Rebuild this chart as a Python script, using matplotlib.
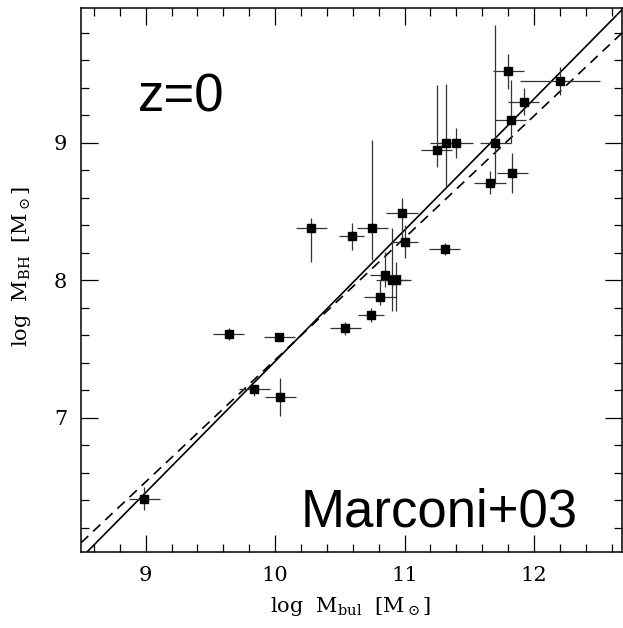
import matplotlib
matplotlib.use('Agg')
import numpy as np
import matplotlib.pyplot as plt
from matplotlib.ticker import MultipleLocator

# log M_bul, log M_BH and their errors
log_mbul = [8.99, 9.64, 10.03, 9.84, 10.04, 10.54, 10.59, 10.28, 10.75, 10.98,
            11.00, 11.31, 10.85, 10.90, 10.93, 10.81, 10.74, 11.25, 11.32, 11.40,
            11.70, 11.66, 11.83, 11.82, 11.92, 11.80, 12.20]
log_mbh = [6.41, 7.61, 7.59, 7.21, 7.15, 7.65, 8.32, 8.38, 8.38, 8.49,
           8.28, 8.23, 8.04, 8.00, 8.00, 7.88, 7.75, 8.95, 9.00, 9.00,
           9.00, 8.71, 8.78, 9.17, 9.30, 9.52, 9.45]
xerr = [0.12, 0.12, 0.12, 0.12, 0.12, 0.12, 0.10, 0.12, 0.12, 0.12,
        0.10, 0.12, 0.12, 0.12, 0.12, 0.12, 0.10, 0.12, 0.12, 0.13,
        0.12, 0.12, 0.12, 0.12, 0.12, 0.12, 0.31]
yerr_lo = [0.085, 0.045, 0.03, 0.05, 0.14, 0.05, 0.10, 0.25, 0.23, 0.20,
           0.12, 0.045, 0.09, 0.22, 0.22, 0.06, 0.05, 0.125, 0.31, 0.11,
           0.30, 0.085, 0.145, 0.17, 0.10, 0.13, 0.10]
yerr_hi = [0.085, 0.045, 0.03, 0.03, 0.14, 0.05, 0.10, 0.07, 0.64, 0.11,
           0.12, 0.045, 0.165, 0.38, 0.13, 0.12, 0.05, 0.47, 0.43, 0.11,
           0.86, 0.085, 0.145, 0.29, 0.10, 0.13, 0.10]

# fitted relations: log M_BH = a + b (log M_bul - 10.9)
fit_solid = (8.27, 0.955)
fit_dashed = (8.22, 0.888)

xmin, xmax = 8.5, 12.68
ymin, ymax = 6.02, 9.98

plt.rcParams['mathtext.fontset'] = 'dejavuserif'

fig = plt.figure(figsize=(6.23, 6.28), dpi=100)
ax = fig.add_axes([0.130, 0.1205, 0.8685, 0.8663])

xx = np.array([xmin, xmax])
ax.plot(xx, fit_solid[0] + fit_solid[1] * (xx - 10.9), color='k', lw=1.2)
ax.plot(xx, fit_dashed[0] + fit_dashed[1] * (xx - 10.9), color='k', lw=1.2,
        ls=(0, (6, 4)))

ax.errorbar(log_mbul, log_mbh, xerr=xerr, yerr=[yerr_lo, yerr_hi],
            fmt='s', color='k', ms=6, elinewidth=0.9, ecolor='#333333',
            capsize=0)

ax.set_xlim(xmin, xmax)
ax.set_ylim(ymin, ymax)
ax.xaxis.set_major_locator(MultipleLocator(1))
ax.xaxis.set_minor_locator(MultipleLocator(0.2))
ax.yaxis.set_major_locator(MultipleLocator(1))
ax.yaxis.set_minor_locator(MultipleLocator(0.2))
ax.tick_params(which='both', direction='in', top=True, right=True,
               width=0.9, labelsize=15, pad=10)
ax.tick_params(which='major', length=12)
ax.tick_params(which='minor', length=6)
for lab in ax.get_xticklabels() + ax.get_yticklabels():
    lab.set_family('DejaVu Serif')
for s in ax.spines.values():
    s.set_linewidth(1.1)

ax.set_xlabel(r'log  M$_{\rm bul}$  [M$_\odot$]', family='DejaVu Serif',
              fontsize=15)
ax.set_ylabel(r'log  M$_{\rm BH}$  [M$_\odot$]', family='DejaVu Serif',
              fontsize=15)
ax.xaxis.set_label_coords(0.498, -0.078)
ax.yaxis.set_label_coords(-0.089, 0.526)

ax.text(8.94, 9.23, 'z=0', family='Liberation Sans', fontsize=38,
        ha='left', va='baseline')
ax.text(12.34, 6.205, 'Marconi+03', family='Liberation Sans', fontsize=38,
        ha='right', va='baseline')

fig.savefig('out.png', dpi=100)
